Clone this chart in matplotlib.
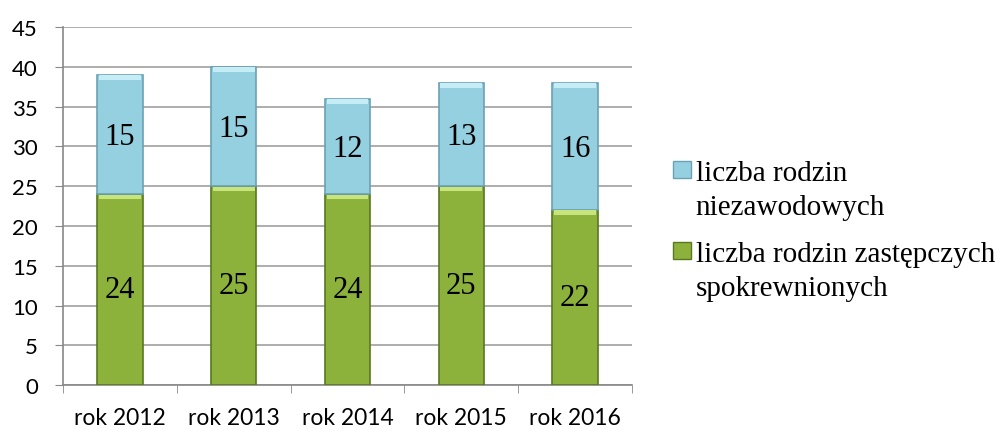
import matplotlib.pyplot as plt
import matplotlib.patches as mpatches
import numpy as np

years = ['rok 2012', 'rok 2013', 'rok 2014', 'rok 2015', 'rok 2016']
spokrewnione = [24, 25, 24, 25, 22]
niezawodowe = [15, 15, 12, 13, 16]

green = '#8db23c'
blue = '#95d0e0'

fig = plt.figure(figsize=(10, 4.31), dpi=100)
ax = fig.add_axes([0.063, 0.104, 0.569, 0.831])

x = np.arange(len(years))
w = 0.4

b1 = ax.bar(x, spokrewnione, w, color=green, edgecolor='#5a7620', linewidth=1.2, zorder=3)
b2 = ax.bar(x, niezawodowe, w, bottom=spokrewnione, color=blue, edgecolor='#6aa2b3',
            linewidth=1.2, zorder=3)

# light bevel strip at top of each segment
for i in range(len(years)):
    ax.bar(x[i], 0.6, w * 0.92, bottom=spokrewnione[i] - 0.65, color='#c8e47c', linewidth=0, zorder=4)
    ax.bar(x[i], 0.6, w * 0.92, bottom=spokrewnione[i] + niezawodowe[i] - 0.65, color='#c6ecf6',
           linewidth=0, zorder=4)

for i in range(len(years)):
    ax.text(x[i], spokrewnione[i] / 2, str(spokrewnione[i]), ha='center', va='center',
            fontsize=22, family='Liberation Serif', zorder=5)
    ax.text(x[i], spokrewnione[i] + niezawodowe[i] / 2 - 0.3, str(niezawodowe[i]), ha='center',
            va='center', fontsize=22, family='Liberation Serif', zorder=5)

ax.set_xlim(-0.5, 4.5)
ax.set_ylim(0, 45)
ax.set_yticks(range(0, 46, 5))
ax.set_xticks(x)
ax.set_xticklabels(years)
ax.set_xticks(np.arange(-0.5, 5, 1), minor=True)
ax.tick_params(axis='x', which='major', length=0, pad=16, labelsize=16.5)
ax.tick_params(axis='x', which='minor', length=6, color='#888888')
ax.tick_params(axis='y', length=6, color='#888888', labelsize=16, pad=12)
for lab in ax.get_xticklabels() + ax.get_yticklabels():
    lab.set_family('Lato')

ax.grid(axis='y', color='#a0a0a0', linewidth=1.2, zorder=0)
ax.set_axisbelow(True)
for s in ['top', 'right']:
    ax.spines[s].set_visible(False)
ax.spines['left'].set_color('#888888')
ax.spines['bottom'].set_color('#888888')
ax.spines['left'].set_linewidth(1.2)
ax.spines['bottom'].set_linewidth(1.2)

# legend: marker aligned with the first line of each label, one legend per series
blank = mpatches.Patch(facecolor='none', edgecolor='none')
h_blue = mpatches.Patch(facecolor=blue, edgecolor='#6aa2b3')
h_green = mpatches.Patch(facecolor=green, edgecolor='#5a7620')
leg_kw = dict(loc='upper left', frameon=False,
              prop={'family': 'Liberation Serif', 'size': 21},
              handlelength=0.6, handleheight=0.55, handletextpad=0.18, labelspacing=0.28,
              borderaxespad=0, borderpad=0)
fig.legend([h_blue, blank], ['liczba rodzin', 'niezawodowych'],
           bbox_to_anchor=(0.673, 0.627), **leg_kw)
fig.legend([h_green, blank], ['liczba rodzin zastępczych', 'spokrewnionych'],
           bbox_to_anchor=(0.673, 0.439), **leg_kw)

fig.savefig('out.png', dpi=100)
